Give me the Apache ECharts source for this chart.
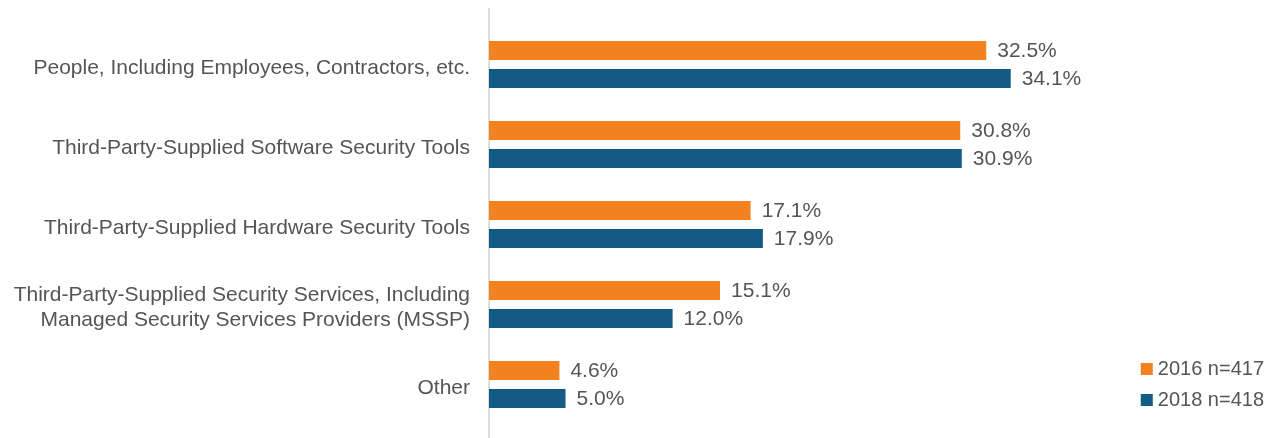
<!DOCTYPE html>
<html>
<head>
<meta charset="utf-8">
<script src="https://cdn.jsdelivr.net/npm/echarts@6/dist/echarts.min.js"></script>
<style>
  html, body { margin: 0; padding: 0; background: #fff; }
  #chart { width: 1275px; height: 438px; }
</style>
</head>
<body>
<div id="chart"></div>
<script>
var categories = [
    "People, Including Employees, Contractors, etc.",
    "Third-Party-Supplied Software Security Tools",
    "Third-Party-Supplied Hardware Security Tools",
    "Third-Party-Supplied Security Services, Including\nManaged Security Services Providers (MSSP)",
    "Other"
];
var seriesNames = ["2016 n=417", "2018 n=418"];
var values2016 = [32.5, 30.8, 17.1, 15.1, 4.6];
var values2018 = [34.1, 30.9, 17.9, 12.0, 5.0];

var colors = ['#F38221', '#135B85'];
var textColor = '#555555';
var fontFamily = 'Liberation Sans, Arial, sans-serif';

var myChart = echarts.init(document.getElementById('chart'));

function makeSeries(name, data, color) {
    return {
        name: name,
        type: 'bar',
        barWidth: 19,
        barGap: '47%',
        itemStyle: { color: color },
        label: {
            show: true,
            position: 'right',
            distance: 11,
            offset: [0, 1],
            color: textColor,
            fontSize: 21,
            fontFamily: fontFamily,
            formatter: function (p) { return p.value.toFixed(1) + '%'; }
        },
        data: data
    };
}

var option = {
    animation: false,
    color: colors,
    grid: {
        left: 489,
        width: 765,   // 50% -> 765px, ~15.3px per %
        top: 24.5,
        height: 400,
        containLabel: false
    },
    legend: {
        orient: 'vertical',
        right: 6,
        top: 354,
        itemWidth: 12,
        itemHeight: 12,
        itemGap: 11,
        icon: 'rect',
        textStyle: { color: textColor, fontSize: 20, fontFamily: fontFamily },
        data: seriesNames
    },
    xAxis: {
        type: 'value',
        min: 0,
        max: 50,
        show: false
    },
    yAxis: {
        type: 'category',
        inverse: true,
        data: categories,
        axisLine: { show: false },
        axisTick: { show: false },
        axisLabel: {
            margin: 19,
            color: textColor,
            fontSize: 21,
            fontFamily: fontFamily,
            align: 'right',
            // push the text a few px below the band centre, like the source
            formatter: function (value) {
                return value.split('\n').map(function (line) {
                    return '{c|' + line + '}';
                }).join('\n');
            },
            rich: {
                c: {
                    color: textColor,
                    fontSize: 21,
                    fontFamily: fontFamily,
                    lineHeight: 25,
                    padding: [7, 0, 0, 0]
                }
            }
        }
    },
    graphic: [{
        type: 'line',
        shape: { x1: 489, y1: 8, x2: 489, y2: 438 },
        style: { stroke: '#dddddd', lineWidth: 2 }
    }],
    series: [
        makeSeries(seriesNames[0], values2016, colors[0]),
        makeSeries(seriesNames[1], values2018, colors[1])
    ]
};

myChart.setOption(option);
</script>
</body>
</html>
